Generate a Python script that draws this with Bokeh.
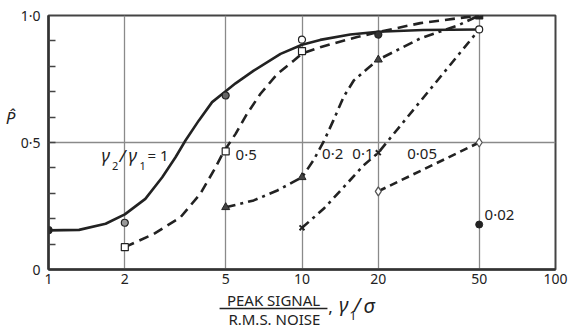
from bokeh.plotting import figure
from bokeh.layouts import column
from bokeh.models import Range1d, FixedTicker, Label, LinearAxis
from bokeh.core.properties import value
from bokeh.embed import file_html
from bokeh.resources import INLINE

# ---------------- data ----------------
x_ticks = [1, 2, 5, 10, 20, 50, 100]
x_tick_labels = ["1", "2", "5", "10", "20", "50", "100"]
y_ticks = [0, 0.5, 1.0]
y_tick_labels = ["0", "0·5", "1·0"]

# fitted curves (one per ratio gamma2/gamma1)
curve_1_x = [1, 1.32, 1.68, 2.0, 2.41, 2.81, 3.17, 3.47, 3.92, 4.42, 5.0, 5.47, 6.45, 8.23, 10, 11.8, 15.5, 20, 30, 50]
curve_1_y = [0.154, 0.156, 0.18, 0.217, 0.278, 0.363, 0.442, 0.508, 0.587, 0.659, 0.702, 0.733, 0.783, 0.849, 0.885, 0.904, 0.925, 0.936, 0.943, 0.945]

curve_05_x = [2, 2.6, 3.32, 3.97, 4.49, 4.9, 5.47, 6.07, 6.86, 7.99, 9.29, 10, 11.8, 13.3, 16.5, 20, 29.3, 50]
curve_05_y = [0.088, 0.14, 0.206, 0.298, 0.39, 0.462, 0.534, 0.613, 0.692, 0.77, 0.823, 0.85, 0.875, 0.89, 0.915, 0.935, 0.97, 1.0]

curve_02_x = [5, 6.45, 7.99, 10, 11.1, 12.2, 13.3, 14.6, 16.0, 18.1, 20, 29.3, 41, 50]
curve_02_y = [0.245, 0.272, 0.311, 0.363, 0.43, 0.505, 0.587, 0.68, 0.744, 0.79, 0.826, 0.91, 0.96, 1.0]

curve_01_x = [10, 12.2, 14.6, 17.5, 20, 50]
curve_01_y = [0.164, 0.24, 0.324, 0.41, 0.46, 0.945]

curve_005_x = [20, 50]
curve_005_y = [0.308, 0.50]

# measured points
pts_1_x = [1, 2, 5, 10, 20, 50]
pts_1_y = [0.155, 0.184, 0.685, 0.905, 0.925, 0.945]
pts_05_x = [2, 5, 10, 50]
pts_05_y = [0.088, 0.465, 0.86, 1.0]
pts_02_x = [5, 10, 20]
pts_02_y = [0.245, 0.363, 0.826]
pts_01_x = [10, 20]
pts_01_y = [0.164, 0.46]
pts_005_x = [20, 50]
pts_005_y = [0.308, 0.50]
pts_002_x = [50]
pts_002_y = [0.177]

ratio_labels = ["0·5", "0·2", "0·1", "0·05", "0·02"]
x_title_num = "PEAK SIGNAL"
x_title_den = "R.M.S. NOISE"
y_title = "P̂"

# ---------------- styling ----------------
INK = "#222222"
FONT = "Noto Sans"

p = figure(width=569, height=291, x_axis_type="log",
           x_range=Range1d(1, 100), y_range=Range1d(0, 1),
           output_backend="svg", toolbar_location=None,
           min_border_left=48, min_border_right=14,
           min_border_top=15, min_border_bottom=22)
p.background_fill_color = "white"
p.border_fill_color = "white"
p.outline_line_color = "#444444"
p.outline_line_width = 2

p.xaxis.ticker = FixedTicker(ticks=x_ticks)
p.xaxis.major_label_overrides = {t: l for t, l in zip(x_ticks, x_tick_labels)}
p.yaxis.ticker = FixedTicker(ticks=y_ticks, minor_ticks=[i / 10 for i in range(1, 10)])
p.yaxis.major_label_overrides = {t: l for t, l in zip(y_ticks, y_tick_labels)}

for ax in (p.xaxis, p.yaxis):
    ax.axis_line_color = "#333333"
    ax.axis_line_width = 2.5
    ax.major_tick_in = 0
    ax.major_tick_out = 0
    ax.major_label_text_font = FONT
    ax.major_label_text_font_size = "14px"
    ax.major_label_text_color = INK
p.xaxis.minor_tick_in = 0
p.xaxis.minor_tick_out = 0
p.yaxis.minor_tick_in = 7
p.yaxis.minor_tick_out = 0
p.yaxis.minor_tick_line_width = 1.5
p.yaxis.minor_tick_line_color = "#444444"
p.xaxis.major_label_standoff = 4
p.yaxis.major_label_standoff = 8

# y title carried by an extra, line-less axis on the left
ytitle_axis = LinearAxis(ticker=FixedTicker(ticks=[0.6], minor_ticks=[]),
                         major_label_overrides={0.6: y_title},
                         axis_line_color=None, major_tick_line_color=None,
                         minor_tick_line_color=None,
                         major_tick_in=0, major_tick_out=0,
                         minor_tick_in=0, minor_tick_out=0,
                         major_label_standoff=2,
                         major_label_text_font=FONT, major_label_text_font_size="17px",
                         major_label_text_font_style="italic", major_label_text_color=INK)
p.add_layout(ytitle_axis, "left")

p.xgrid.ticker = FixedTicker(ticks=[2, 5, 10, 20, 50])
p.ygrid.ticker = FixedTicker(ticks=[0.5])
p.grid.grid_line_color = "#8a8a8a"
p.grid.grid_line_width = 1.3

# curves
p.line(curve_1_x, curve_1_y, line_width=2.6, color=INK)
p.line(curve_05_x, curve_05_y, line_width=2.6, color=INK, line_dash="10 6")
p.line(curve_02_x, curve_02_y, line_width=2.6, color=INK, line_dash="10 5 3 5")
p.line(curve_01_x, curve_01_y, line_width=2.6, color=INK, line_dash="9 5 3 5")
p.line(curve_005_x, curve_005_y, line_width=2.6, color=INK, line_dash="8 5")

# markers
p.scatter(pts_1_x, pts_1_y, marker="circle", size=7, line_color=INK,
          fill_color=["#222222", "#999999", "#666666", "white", "#333333", "white"], line_width=1.2)
p.scatter(pts_05_x, pts_05_y, marker="square", size=7, line_color=INK,
          fill_color=["white", "white", "white", "#222222"], line_width=1.2)
p.scatter(pts_02_x, pts_02_y, marker="triangle", size=8, line_color=INK, fill_color="#444444")
p.scatter(pts_01_x, pts_01_y, marker="x", size=7, line_color=INK, line_width=2)
p.scatter(pts_005_x, pts_005_y, marker="diamond", size=9, line_color="#555555", fill_color="white", line_width=1.3)
p.scatter(pts_002_x, pts_002_y, marker="circle", size=7, line_color=INK, fill_color=INK)

# curve labels
label_pos = [(5.47, 0.456), (12.0, 0.457), (15.8, 0.457), (26.0, 0.458), (52.5, 0.217)]
for (lx, ly), txt in zip(label_pos, ratio_labels):
    p.add_layout(Label(x=lx, y=ly, text=txt, text_font=FONT, text_font_size="15px",
                       text_color=INK, text_baseline="middle", text_align="left"))

# "gamma2 / gamma1 = 1" built from pieces (subscripts)
pieces = [
    (1.619, 0.449, "γ", "18px", "italic"),
    (1.781, 0.409, "2", "11px", "normal"),
    (1.906, 0.449, "/", "17px", "italic"),
    (2.068, 0.449, "γ", "18px", "italic"),
    (2.286, 0.406, "1", "11px", "normal"),
    (2.458, 0.449, "= 1", "15px", "normal"),
]
for lx, ly, txt, fs, st in pieces:
    p.add_layout(Label(x=lx, y=ly, text=txt, text_font=FONT, text_font_size=fs,
                       text_font_style=st, text_color=INK, text_baseline="middle", text_align="left"))

# ---------------- x-axis title strip ----------------
p2 = figure(width=569, height=37, x_axis_type="log",
            x_range=p.x_range, y_range=Range1d(37, 0),
            output_backend="svg", toolbar_location=None,
            x_axis_location=None, y_axis_location=None,
            min_border_left=48, min_border_right=14,
            min_border_top=0, min_border_bottom=0)
p2.outline_line_color = None
p2.grid.visible = False
p2.background_fill_color = "white"
p2.border_fill_color = "white"

p2.text(x=[7.72], y=[8.8], text=[x_title_num], text_font=value(FONT), text_font_size="15px",
        text_color=INK, text_baseline="middle", text_align="center")
p2.text(x=[7.78], y=[27.0], text=[x_title_den], text_font=value(FONT), text_font_size="15px",
        text_color=INK, text_baseline="middle", text_align="center")
p2.segment(x0=[4.73], y0=[17], x1=[12.6], y1=[17], line_width=1.6, line_color=INK)

tail = [
    (12.7, 15, ",", "17px", "normal"),
    (14.0, 13, "γ", "20px", "italic"),
    (15.4, 24, "1", "12px", "normal"),
    (16.0, 13, "/", "19px", "italic"),
    (17.5, 14, "σ", "20px", "italic"),
]
for tx, ty, txt, fs, st in tail:
    p2.text(x=[tx], y=[ty], text=[txt], text_font=value(FONT), text_font_size=fs,
            text_font_style=st, text_color=INK, text_baseline="middle", text_align="left")

layout = column(p, p2, spacing=0)
open("out.html", "w").write(file_html(layout, INLINE))
